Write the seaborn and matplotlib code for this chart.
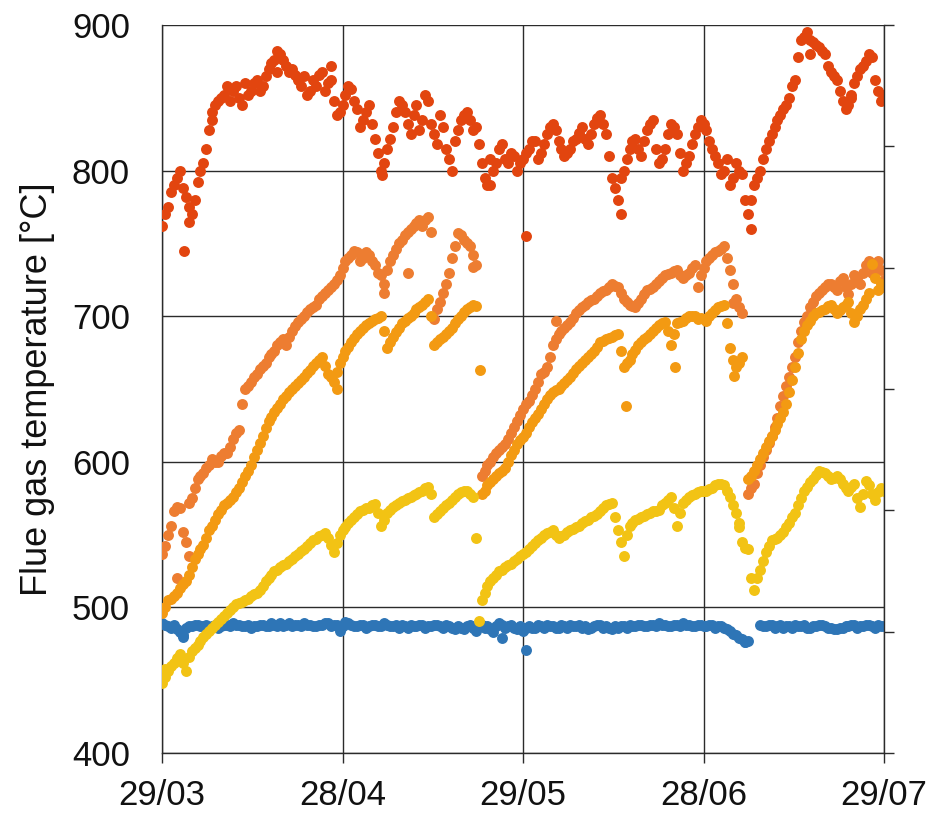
import datetime as dt
import numpy as np
import pandas as pd
import matplotlib
matplotlib.use("Agg")
import matplotlib.pyplot as plt
import seaborn as sns

# ---------------- data (day offset from 29/03, temperature in °C) ----------------
start_date = dt.date(2000, 3, 29)
tick_days = [0, 30.5, 61, 91.5, 122]
y_ticks = [400, 500, 600, 700, 800, 900]

# --- red series: daily readings, half-day readings, isolated outliers
red_days_a = list(range(0, 123))
red_vals_a = [762, 775, 790, 800, 782, 770, 792, 805, 828, 845, 850, 858, 855, 850, 860, 855, 862, 858, 870, 876,
              880, 872, 870, 862, 865, 855, 858, 868, 860, 848, 840, 852, 856, 842, 835, 845, 822, 800, 815, 830,
              848, 840, 825, 845, 835, 848, 825, 838, 815, 800, 828, 838, 835, 830, 805, 790, 800, 815, 808, 812,
              800, 808, 815, 820, 812, 825, 832, 820, 810, 815, 822, 830, 818, 832, 838, 825, 795, 780, 800, 815,
              822, 810, 828, 835, 805, 815, 832, 825, 800, 810, 825, 835, 828, 815, 805, 800, 790, 805, 798, 770,
              790, 800, 815, 825, 835, 842, 850, 862, 890, 895, 888, 885, 880, 868, 862, 848, 845, 860, 870, 875,
              878, 855, 852]
red_days_b = list(np.arange(0.5, 122, 1.0))
red_vals_b = [770, 785, 795, 788, 775, 780, 800, 815, 835, 848, 852, 848, 858, 845, 852, 860, 855, 865, 874, 882,
              876, 868, 866, 858, 852, 862, 866, 855, 862, 838, 845, 858, 848, 830, 840, 832, 812, 805, 822, 840,
              845, 832, 838, 828, 852, 832, 818, 830, 808, 820, 835, 840, 828, 818, 795, 808, 805, 818, 805, 810,
              805, 812, 820, 808, 818, 830, 828, 815, 812, 820, 826, 822, 825, 836, 832, 810, 788, 795, 808, 820,
              815, 820, 832, 815, 808, 825, 830, 812, 805, 818, 830, 832, 820, 810, 798, 808, 795, 800, 780, 780,
              795, 808, 820, 830, 838, 845, 858, 878, 892, 890, 886, 882, 872, 865, 855, 842, 852, 865, 872, 880,
              862, 848]
red_days_c = [3.7, 61.5, 99.6, 77.5, 55.5, 37.2, 4.5, 8.5, 19.5, 109.5, 116.5, 28.5]
red_vals_c = [745, 755, 760, 770, 790, 797, 765, 840, 868, 880, 850, 872]

# --- orange series
orange_days_a = list(range(0, 99)) + list(range(99, 123))
orange_vals_a = [537, 550, 566, 568, 545, 575, 588, 592, 598, 600, 604, 606, 616, 622, 650, 655, 660, 666, 672, 676,
                 682, 680, 690, 696, 700, 705, 708, 714, 718, 722, 728, 738, 742, 744, 740, 742, 735, 728, 732, 742,
                 750, 756, 760, 764, 762, 768, 698, 710, 722, 740, 757, 752, 748, 735,
                 590, 598, 603, 608, 612, 620, 628, 636, 642, 650, 660, 665, 680, 688, 692, 696, 702, 706, 710, 712,
                 716, 718, 722, 720, 712, 708, 706, 712, 718, 720, 724, 728, 730, 732, 726, 730, 735, 728, 738, 742,
                 745, 748, 732, 712, 702,
                 578, 585, 598, 608, 618, 630, 645, 658, 672, 690, 700, 710, 716, 720, 722, 718, 726, 715, 728, 722,
                 735, 730, 738, 725]
orange_days_b = list(np.arange(0.5, 53, 1.0)) + list(np.arange(54.5, 98, 1.0)) + list(np.arange(99.5, 122, 1.0))
orange_vals_b = [542, 556, 569, 552, 572, 582, 590, 596, 602, 600, 606, 610, 620, 640, 652, 658, 664, 668, 674, 680,
                 684, 686, 693, 698, 703, 706, 712, 716, 720, 725, 733, 740, 745, 738, 744, 738, 730, 722, 738, 746,
                 752, 758, 762, 766, 766, 758, 705, 716, 730, 748, 756, 750, 742,
                 594, 600, 606, 610, 616, 624, 632, 640, 646, 655, 662, 672, 684, 690, 694, 699, 704, 708, 711, 714,
                 717, 720, 721, 716, 710, 707, 709, 715, 719, 722, 726, 729, 731, 728, 728, 733, 720, 733, 740, 744,
                 746, 740, 722, 706,
                 582, 592, 603, 613, 624, 638, 652, 665, 682, 696, 706, 714, 718, 722, 720, 724, 720, 722, 726, 730,
                 738, 734, 732]
orange_days_c = [2.5, 4.5, 37.5, 41.5, 52.5, 66.5, 96.5]
orange_vals_c = [520, 535, 716, 730, 734, 697, 709]

# --- amber series
amber_days_a = list(range(0, 123))
amber_vals_a = [496, 505, 508, 513, 518, 528, 537, 543, 553, 560, 567, 572, 576, 582, 590, 598, 608, 618, 628, 634,
                640, 645, 650, 654, 658, 663, 668, 672, 660, 655, 668, 676, 682, 688, 692, 695, 698, 700, 678, 686,
                692, 697, 700, 705, 708, 712, 680, 684, 688, 692, 698, 703, 706, 707,
                578, 584, 588, 592, 596, 605, 612, 617, 624, 630, 636, 643, 648, 650, 654, 658, 664, 668, 672, 676,
                682, 684, 686, 688, 665, 670, 677, 682, 686, 690, 694, 696, 680, 695, 697, 700, 700, 699, 697, 702,
                706, 708, 678, 665, 672,
                588, 594, 602, 610, 618, 626, 634, 648, 665, 684, 694, 700, 703, 705, 708, 702, 706, 710, 696, 705,
                712, 736, 718, 720]
amber_days_b = list(np.arange(0.5, 53, 1.0)) + list(np.arange(54.5, 98, 1.0)) + list(np.arange(99.5, 122, 1.0))
amber_vals_b = [500, 506, 510, 516, 522, 533, 540, 548, 556, 564, 570, 574, 579, 586, 594, 603, 613, 623, 631, 637,
                643, 648, 652, 656, 661, 666, 670, 666, 658, 662, 672, 679, 685, 690, 694, 697, 699, 690, 682, 689,
                695, 699, 702, 706, 710, 700, 682, 686, 690, 695, 700, 705, 708,
                580, 586, 590, 594, 600, 608, 615, 620, 627, 633, 640, 646, 649, 652, 656, 661, 666, 670, 674, 679,
                683, 685, 687, 676, 668, 674, 680, 684, 688, 692, 695, 690, 688, 696, 699, 700, 698, 698, 700, 704,
                707, 695, 670, 668,
                590, 598, 606, 614, 622, 630, 640, 656, 675, 690, 697, 702, 704, 707, 705, 704, 708, 702, 700, 708,
                716, 726, 722]
amber_days_c = [53.7, 78.4, 96.7, 29.5, 86.6]
amber_vals_c = [663, 638, 659, 650, 665]

# --- yellow series
yellow_days_a = list(range(0, 123))
yellow_vals_a = [448, 456, 462, 468, 456, 470, 474, 480, 484, 488, 492, 496, 500, 503, 505, 508, 510, 515, 520, 525,
                 528, 530, 533, 537, 540, 544, 547, 550, 548, 538, 550, 555, 560, 564, 567, 568, 571, 556, 565, 569,
                 572, 574, 576, 578, 580, 583, 562, 566, 570, 574, 578, 580, 578, 548,
                 505, 515, 520, 525, 528, 530, 533, 537, 540, 544, 548, 551, 553, 548, 550, 553, 555, 558, 560, 563,
                 566, 570, 572, 553, 535, 556, 560, 562, 564, 566, 567, 572, 576, 556, 572, 576, 578, 580, 580, 582,
                 585, 584, 576, 565, 545, 540, 512, 526, 538, 546, 548, 552, 558, 565, 575, 583, 588, 594, 592, 588,
                 590, 585, 580, 585, 569, 587, 578, 579, 580]
yellow_days_b = list(np.arange(0.5, 53, 1.0)) + list(np.arange(54.5, 122, 1.0))
yellow_vals_b = [452, 460, 465, 462, 466, 472, 477, 482, 486, 490, 494, 498, 502, 504, 506, 509, 512, 518, 522, 526,
                 529, 532, 535, 539, 542, 546, 549, 551, 543, 544, 553, 558, 562, 566, 568, 570, 565, 560, 567, 570,
                 573, 575, 577, 579, 582, 578, 564, 568, 572, 576, 579, 580, 576,
                 510, 518, 522, 526, 529, 532, 535, 538, 542, 546, 550, 552, 550, 549, 552, 554, 556, 559, 562, 564,
                 568, 571, 562, 545, 550, 558, 561, 563, 565, 566, 570, 574, 568, 565, 574, 577, 579, 580, 581, 584,
                 585, 580, 570, 558, 541, 520, 520, 532, 542, 547, 550, 555, 562, 570, 580, 586, 591, 593, 590, 589,
                 588, 582, 583, 575, 578, 584, 574, 582]
yellow_days_c = [53.5, 0.5, 97.5]
yellow_vals_c = [491, 458, 555]

# --- blue series
blue_days_a = list(range(0, 100)) + list(range(101, 123))
blue_vals_a = [489, 487, 488, 483, 486, 487, 488, 487, 486, 488, 487, 488, 489, 488, 487, 486, 487, 488, 487, 488,
               489, 488, 487, 488, 489, 488, 487, 488, 489, 488, 484, 490, 488, 487, 488, 487, 488, 487, 488, 487,
               486, 487, 488, 487, 488, 487, 488, 487, 488, 486, 487, 485, 488, 484, 488, 487, 483, 489, 486, 488,
               485, 484, 487, 486, 487, 488, 487, 486, 487, 488, 487, 486, 485, 487, 488, 487, 485, 486, 487, 488,
               487, 488, 487, 488, 489, 488, 487, 488, 489, 488, 487, 488, 487, 488, 487, 486, 484, 481, 478, 477,
               488, 487, 488, 487, 486, 487, 488, 487, 486, 487, 488, 487, 486, 485, 486, 487, 488, 487, 488, 487,
               488, 487]
blue_days_b = list(np.arange(0.5, 99, 1.0)) + list(np.arange(101.5, 122, 1.0))
blue_vals_b = [488, 486, 485, 481, 487, 488, 487, 488, 487, 486,
               488, 487, 488, 487, 488, 487, 488, 487, 489, 487,
               487, 489, 488, 487, 488, 487, 488, 489, 487, 488,
               487, 489, 487, 488, 486, 488, 487, 489, 487, 488,
               488, 486, 487, 488, 486, 487, 488, 486, 487, 485,
               486, 487, 486, 488, 486, 485, 487, 488, 487, 486,
               487, 486, 486, 488, 486, 487, 486, 488, 486, 487,
               488, 487, 486, 488, 486, 486, 487, 487, 486, 487,
               488, 487, 488, 487, 488, 487, 488, 487, 488, 487,
               488, 487, 488, 486, 487, 485, 482, 479, 476,
               487, 488, 486, 488, 487, 486, 487, 488, 486, 487, 488, 486, 485, 486, 487, 488, 486, 487, 488, 486, 487]
blue_days_c = [3.5, 61.5, 57.5, 98.5, 30.5]
blue_vals_c = [480, 471, 479, 476, 488]

series_names = ["blue", "red", "orange", "amber", "yellow"]
series_colors = ["#2E75B6", "#E2450F", "#ED7D31", "#F39A12", "#F2C314"]

series_data = {
    "blue": (blue_days_a + blue_days_b + blue_days_c, blue_vals_a + blue_vals_b + blue_vals_c),
    "red": (red_days_a + red_days_b + red_days_c, red_vals_a + red_vals_b + red_vals_c),
    "orange": (orange_days_a + orange_days_b + orange_days_c, orange_vals_a + orange_vals_b + orange_vals_c),
    "amber": (amber_days_a + amber_days_b + amber_days_c, amber_vals_a + amber_vals_b + amber_vals_c),
    "yellow": (yellow_days_a + yellow_days_b + yellow_days_c, yellow_vals_a + yellow_vals_b + yellow_vals_c),
}
frames = []
for name in series_names:
    d, v = series_data[name]
    assert len(d) == len(v), name
    frames.append(pd.DataFrame({"day": [float(x) for x in d], "temp": v, "series": name}))
df = pd.concat(frames, ignore_index=True)

# ---------------- plotting ----------------
sns.set_theme(style="white")
plt.rcParams["font.family"] = ["Liberation Sans", "DejaVu Sans"]

fig = plt.figure(figsize=(9.28, 8.13), dpi=100)
ax = fig.add_axes([162 / 928, 60 / 813, 722 / 928, 728 / 813])

for name, col in zip(series_names, series_colors):
    sub = df[df["series"] == name]
    sns.scatterplot(data=sub, x="day", y="temp", color=col, s=62, linewidth=0,
                    ax=ax, legend=False, zorder=3)

ax.set_xlim(0, 122)
ax.set_ylim(400, 900)
ax.set_xticks(tick_days)
ax.set_xticklabels([(start_date + dt.timedelta(days=int(t))).strftime("%d/%m") for t in tick_days])
ax.set_yticks(y_ticks)
ax.grid(True, color="#2b2b2b", linewidth=1.0, zorder=0)
ax.set_axisbelow(True)
for s in ["top", "right"]:
    ax.spines[s].set_visible(False)
for s in ["left", "bottom"]:
    ax.spines[s].set_color("#2b2b2b")
    ax.spines[s].set_linewidth(1.0)
ax.tick_params(axis="x", direction="out", length=7.5, width=1, color="#2b2b2b",
               labelsize=25, pad=11, bottom=True, labelcolor="#111111")
ax.tick_params(axis="y", length=0, labelsize=25, pad=23, labelcolor="#111111")
ax.set_xlabel("")
ax.set_ylabel("Flue gas temperature [°C]", fontsize=26, labelpad=12, color="#111111")

ax2 = ax.twinx()
ax2.set_ylim(0, 6)
ax2.set_yticks(range(7))
ax2.set_yticklabels([])
for s in ["top", "left", "bottom"]:
    ax2.spines[s].set_visible(False)
ax2.spines["right"].set_color("#2b2b2b")
ax2.spines["right"].set_linewidth(1.0)
ax2.tick_params(axis="y", direction="out", length=7.5, width=1, color="#2b2b2b", right=True)

fig.savefig("out.png", dpi=100, facecolor="white")
